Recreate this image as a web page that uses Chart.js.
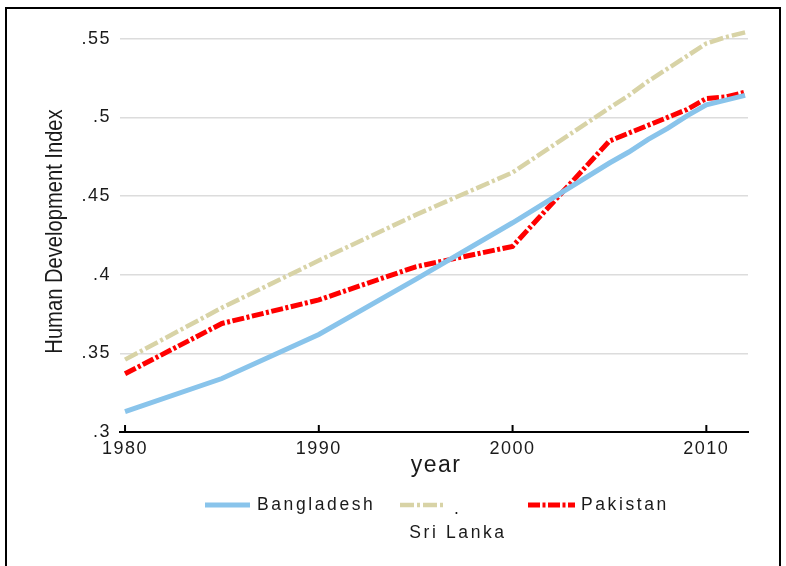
<!DOCTYPE html>
<html>
<head>
<meta charset="utf-8">
<script src="https://cdn.jsdelivr.net/npm/chart.js@4"></script>
<style>
  html, body { margin: 0; padding: 0; background: #fff; }
  #wrap { position: relative; width: 786px; height: 566px; overflow: hidden; }
  #frame { position: absolute; left: 5px; top: 7px; width: 772px; height: 600px; border: 2px solid #000; pointer-events: none; }
</style>
</head>
<body>
<div id="wrap">
  <canvas id="hdiChart" width="786" height="566"></canvas>
  <div id="frame"></div>
</div>
<script>
const years = [1980, 1985, 1990, 1995, 2000, 2005, 2006, 2007, 2008, 2009, 2010, 2011, 2012];
const bangladesh = [0.313, 0.334, 0.362, 0.397, 0.433, 0.471, 0.478, 0.486, 0.493, 0.501, 0.508, 0.511, 0.514];
const sriLanka = [0.346, 0.379, 0.409, 0.438, 0.465, 0.506, 0.514, 0.523, 0.531, 0.539, 0.547, 0.551, 0.554];
const pakistan = [0.337, 0.369, 0.384, 0.405, 0.418, 0.485, 0.490, 0.495, 0.500, 0.505, 0.512, 0.513, 0.516];
const seriesNames = ['Bangladesh', 'Sri Lanka', 'Pakistan'];
const xTicks = [1980, 1990, 2000, 2010];
const yTicks = [0.3, 0.35, 0.4, 0.45, 0.5, 0.55];
const yTickLabels = ['.3', '.35', '.4', '.45', '.5', '.55'];

const toPoints = vals => vals.map((v, i) => ({ x: years[i], y: v }));

// tick marks pointing up, titles and legend drawn by hand (Stata look)
const stataBits = {
  id: 'stataBits',
  beforeDraw(chart) {
    chart.ctx.letterSpacing = '1.5px';
  },
  afterDraw(chart) {
    const ctx = chart.ctx;
    const area = chart.chartArea;
    const xs = chart.scales.x;
    ctx.save();
    ctx.strokeStyle = '#000';
    ctx.lineWidth = 2;
    xTicks.forEach(t => {
      const px = xs.getPixelForValue(t);
      ctx.beginPath();
      ctx.moveTo(px, area.bottom);
      ctx.lineTo(px, area.bottom - 7);
      ctx.stroke();
    });

    ctx.fillStyle = '#1a1a1a';
    // y title, squeezed like the narrow Stata font
    ctx.save();
    ctx.letterSpacing = '0px';
    ctx.font = '24px "Liberation Sans", Arial, sans-serif';
    ctx.translate(55, (area.top + area.bottom) / 2 + 4);
    ctx.rotate(-Math.PI / 2);
    ctx.scale(0.84, 1);
    ctx.textAlign = 'center';
    ctx.textBaseline = 'middle';
    ctx.fillText('Human Development Index', 0, 0);
    ctx.restore();

    // x title
    ctx.letterSpacing = '1.5px';
    ctx.font = '23px "Liberation Sans", Arial, sans-serif';
    ctx.textAlign = 'center';
    ctx.textBaseline = 'middle';
    ctx.fillText('year', (area.left + area.right) / 2 + 2, 466);

    // legend
    const items = [
      { ds: 0, x0: 205, x1: 250, tx: 257, ty: 505, align: 'left' },
      { ds: 1, x0: 400, x1: 445, tx: 458, ty: 533, align: 'center' },
      { ds: 2, x0: 528, x1: 575, tx: 581, ty: 505, align: 'left' }
    ];
    ctx.font = '17.5px "Liberation Sans", Arial, sans-serif';
    ctx.letterSpacing = '2.6px';
    items.forEach(it => {
      const ds = chart.data.datasets[it.ds];
      ctx.save();
      ctx.strokeStyle = ds.borderColor;
      ctx.lineWidth = ds.borderWidth;
      ctx.setLineDash(ds.borderDash || []);
      ctx.beginPath();
      ctx.moveTo(it.x0, 505);
      ctx.lineTo(it.x1, 505);
      ctx.stroke();
      ctx.restore();
      ctx.textAlign = it.align;
      ctx.fillText(ds.label, it.tx, it.ty);
    });
    ctx.fillText('.', 454, 509);
    ctx.restore();
  }
};

const ctx = document.getElementById('hdiChart').getContext('2d');
const hdiChart = new Chart(ctx, {
  type: 'line',
  data: {
    datasets: [
      {
        label: seriesNames[0],
        data: toPoints(bangladesh),
        borderColor: '#89c4eb',
        borderWidth: 5
      },
      {
        label: seriesNames[1],
        data: toPoints(sriLanka),
        borderColor: '#d8d3a6',
        borderWidth: 4.5,
        borderDash: [14, 3, 3, 3]
      },
      {
        label: seriesNames[2],
        data: toPoints(pakistan),
        borderColor: '#ff0000',
        borderWidth: 5,
        borderDash: [12, 2.5, 3, 2.5]
      }
    ]
  },
  options: {
    responsive: false,
    animation: false,
    layout: { padding: { top: 23, right: 38, left: 0, bottom: 0 } },
    elements: { point: { radius: 0 }, line: { tension: 0, borderCapStyle: 'butt' } },
    plugins: { legend: { display: false }, tooltip: { enabled: false } },
    scales: {
      x: {
        type: 'linear',
        min: 1979.74,
        max: 2012.15,
        afterBuildTicks: s => { s.ticks = xTicks.map(v => ({ value: v })); },
        afterFit: s => { s.height = 134; },
        grid: { display: false, drawTicks: false },
        border: { display: true, color: '#000', width: 2 },
        ticks: {
          padding: 6,
          color: '#1a1a1a',
          font: { family: '"Liberation Sans", Arial, sans-serif', size: 18 },
          callback: v => String(v)
        }
      },
      y: {
        min: 0.3,
        max: 0.56,
        afterBuildTicks: s => { s.ticks = yTicks.map(v => ({ value: v })); },
        afterFit: s => { s.width = 120; },
        grid: { color: '#dcdcdc', lineWidth: 1.5, drawTicks: false },
        border: { display: false },
        ticks: {
          padding: 9,
          color: '#1a1a1a',
          font: { family: '"Liberation Sans", Arial, sans-serif', size: 18 },
          callback: (v, i) => yTickLabels[i]
        }
      }
    }
  },
  plugins: [stataBits]
});
</script>
</body>
</html>
